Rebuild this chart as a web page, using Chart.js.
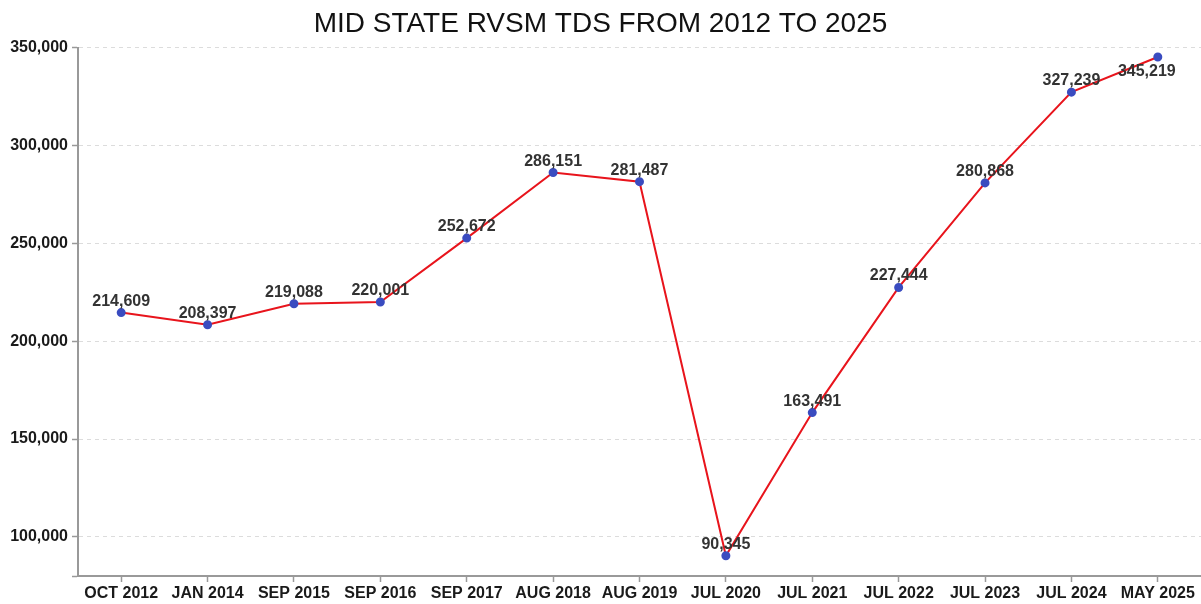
<!DOCTYPE html>
<html>
<head>
<meta charset="utf-8">
<script src="https://cdn.jsdelivr.net/npm/chart.js@4/dist/chart.umd.min.js"></script>
<style>
  html, body { margin: 0; padding: 0; background: #fff; }
  #wrap { width: 1201px; height: 604px; position: relative; }
</style>
</head>
<body>
<div id="wrap"><canvas id="tdsChart"></canvas></div>
<script>
'use strict';

// ── data ──
const periods = ['OCT 2012', 'JAN 2014', 'SEP 2015', 'SEP 2016', 'SEP 2017', 'AUG 2018', 'AUG 2019',
                 'JUL 2020', 'JUL 2021', 'JUL 2022', 'JUL 2023', 'JUL 2024', 'MAY 2025'];
const tdsCounts = [214609, 208397, 219088, 220001, 252672, 286151, 281487,
                   90345, 163491, 227444, 280868, 327239, 345219];
const yTicks = [100000, 150000, 200000, 250000, 300000, 350000];

const fmt = v => Number(v).toLocaleString('en-US');
const FONT = "'Liberation Sans', Arial, sans-serif";

// value labels above each point
const pointLabels = {
  id: 'pointLabels',
  afterDatasetsDraw(chart) {
    const { ctx, chartArea } = chart;
    const meta = chart.getDatasetMeta(0);
    ctx.save();
    ctx.font = `bold 16px ${FONT}`;
    ctx.fillStyle = '#333';
    ctx.textAlign = 'center';
    ctx.textBaseline = 'alphabetic';
    meta.data.forEach((pt, i) => {
      const txt = fmt(tdsCounts[i]);
      let x = pt.x, y = pt.y - 7;
      if (y - 13 < chartArea.top) { y = pt.y + 19; x = pt.x - 11; }
      ctx.fillText(txt, x, y);
    });
    ctx.restore();
  }
};

new Chart(document.getElementById('tdsChart'), {
  type: 'line',
  data: {
    labels: periods,
    datasets: [{
      label: 'TDS',
      data: tdsCounts,
      borderColor: '#e8141c',
      borderWidth: 2,
      backgroundColor: '#3a4cc0',
      pointBackgroundColor: '#3a4cc0',
      pointBorderColor: '#3a4cc0',
      pointRadius: 3.5,
      tension: 0,
      fill: false,
      clip: false,
    }]
  },
  options: {
    responsive: true,
    maintainAspectRatio: false,
    animation: false,
    layout: { padding: 0, autoPadding: false },
    plugins: {
      legend: { display: false },
      tooltip: { enabled: false },
      title: {
        display: true,
        text: 'MID STATE RVSM TDS FROM 2012 TO 2025',
        color: '#111',
        font: { family: FONT, size: 28, weight: 'normal' },
        padding: { top: 7, bottom: 7 }
      }
    },
    scales: {
      x: {
        offset: true,
        grid: { display: true, drawOnChartArea: false, tickColor: '#999', tickLength: 6, tickWidth: 1.5 },
        border: { color: '#999', width: 2 },
        ticks: { color: '#1a1a1a', font: { family: FONT, size: 16, weight: 'bold' }, maxRotation: 0, autoSkip: false, padding: 2 },
        afterFit: s => { s.height = 28; s.paddingRight = 0; s.paddingLeft = 0; }
      },
      y: {
        min: 80000,
        max: 350000,
        afterBuildTicks: s => { s.ticks = [80000, ...yTicks].map(v => ({ value: v })); },
        grid: {
          color: ctx => ctx.tick && ctx.tick.value === 80000 ? 'rgba(0,0,0,0)' : '#dcdcdc',
          lineWidth: 1,
          tickColor: '#999', tickLength: 6, tickWidth: 1.5
        },
        border: { color: '#999', width: 2, dash: [4, 4] },
        ticks: {
          color: '#1a1a1a',
          font: { family: FONT, size: 16, weight: 'bold' },
          padding: 4,
          callback: v => v === 80000 ? '' : fmt(v)
        },
        afterFit: s => { s.width = 78; }
      }
    }
  },
  plugins: [pointLabels]
});
</script>
</body>
</html>
